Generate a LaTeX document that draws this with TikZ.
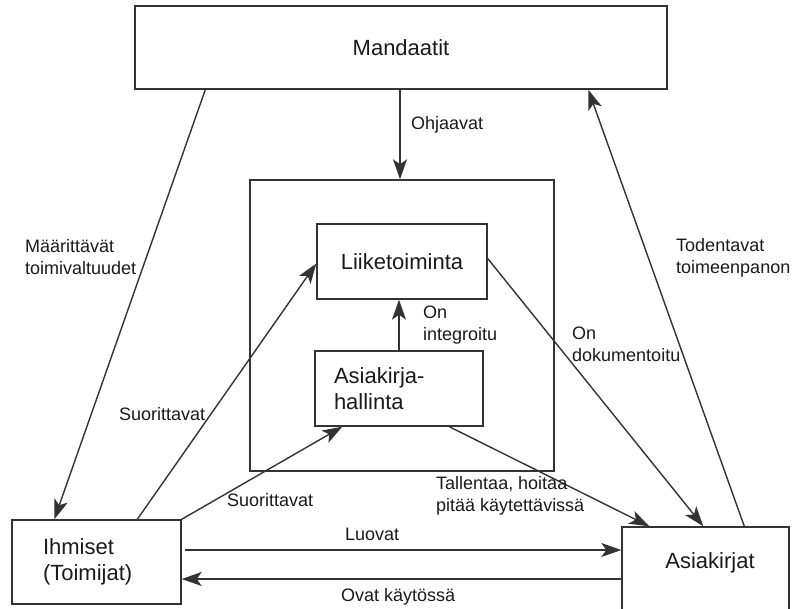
\documentclass[tikz,border=0pt]{standalone}
\usepackage{fontspec}
\setmainfont{Liberation Sans}
\usetikzlibrary{arrows.meta,calc}

\definecolor{linegray}{HTML}{333333}
\definecolor{textdark}{HTML}{1A1A1A}

\begin{document}
\begin{tikzpicture}[x=1pt,y=-1pt,
  box/.style={draw=linegray, line width=1.4pt, fill=white, inner sep=0pt,
    text=textdark, font=\fontsize{22}{26.4}\selectfont},
  boxtext/.style={inner sep=0pt, text=textdark, font=\fontsize{22}{26.4}\selectfont},
  lbl/.style={inner sep=0pt, anchor=west, align=left, text=textdark,
    font=\fontsize{18}{21.6}\selectfont},
  arr/.style={draw=linegray, line width=1.4pt,
    -{Stealth[length=20pt,width=14pt,inset=5pt]}},
]
\useasboundingbox (0,0) rectangle (792,608);
\fill[white] (0,0) rectangle (792,608);
\clip (0,0) rectangle (792,608);

% boxes
\node[box, minimum width=532, minimum height=83] (mand) at (401, 47.5) {Mandaatit};
\node[box, minimum width=304, minimum height=291] (inner) at (402, 325.5) {};
\node[box, minimum width=170, minimum height=75] (liike) at (402, 261.5) {Liiketoiminta};
\node[box, minimum width=168, minimum height=75, text width=130, align=left]
  (akh) at (399, 388.5) {Asiakirja-\\hallinta};
\node[box, minimum width=169, minimum height=84, text width=107, align=left]
  (ihm) at (96.5, 562) {Ihmiset\\(Toimijat)};
\node[box, minimum width=167, minimum height=113] (asia) at (705.5, 583.5) {};
\node[boxtext] (asiatxt) at (710, 563) {Asiakirjat};

% connectors
\draw[arr] ($(mand.south west)+(71,0)$) -- ($(ihm.north west)+(43,0)$);
\draw[arr] ($(mand.south)+(-1,0)$) -- ($(inner.north)+(-2,0)$);
\draw[arr] ($(asia.north west)+(123,0)$) -- ($(mand.south west)+(454,0)$);
\draw[arr] ($(ihm.north west)+(126,0)$) -- ($(liike.west)+(0,2)$);
\draw[arr] (ihm.north east) -- ($(akh.south west)+(28,0)$);
\draw[arr] (akh.north) -- (akh.north |- liike.south);
\draw[arr] ($(liike.east)+(0,-3)$) -- ($(asia.north west)+(82,0)$);
\draw[arr] ($(akh.south west)+(135,0)$) -- ($(asia.north west)+(28,0)$);
\draw[arr] ($(ihm.east)+(3,-12)$) -- ($(ihm.east -| asia.west)+(0,-12)$);
\draw[arr] ($(ihm.east -| asia.west)+(0,17)$) -- ($(ihm.east)+(0,17)$);

% connector labels
\node[lbl] (l1) at (25, 257) {Määrittävät\\toimivaltuudet};
\node[lbl] (l2) at (411, 125) {Ohjaavat};
\node[lbl] (l3) at (676, 258) {Todentavat\\toimeenpanon};
\node[lbl] (l4) at (119, 414) {Suorittavat};
\node[lbl] (l5) at (227, 500) {Suorittavat};
\node[lbl] (l6) at (423, 325) {On\\integroitu};
\node[lbl] (l7) at (572, 344) {On\\dokumentoitu};
\node[lbl] (l8) at (436, 496) {Tallentaa, hoitaa\\pitää käytettävissä};
\node[lbl] (l9) at (345, 534) {Luovat};
\node[lbl] (l10) at (341, 597) {Ovat käytössä};
\end{tikzpicture}
\end{document}
